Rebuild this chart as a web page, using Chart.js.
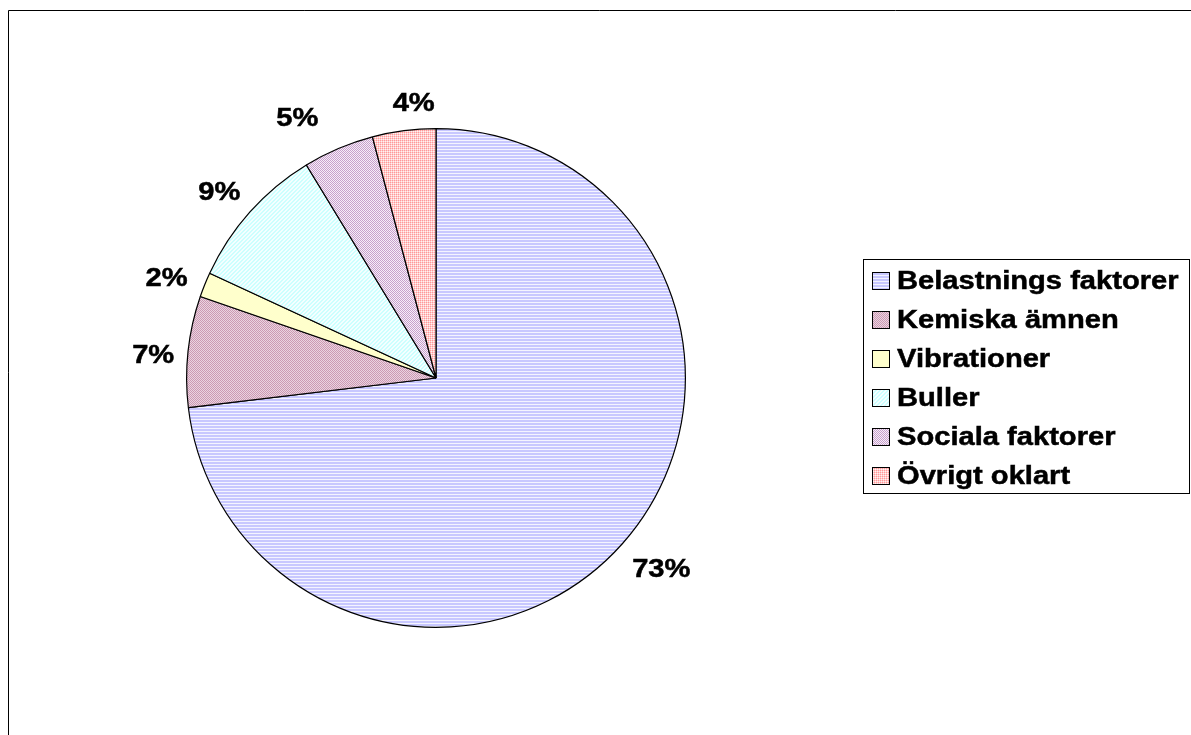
<!DOCTYPE html>
<html>
<head>
<meta charset="utf-8">
<script src="https://cdn.jsdelivr.net/npm/chart.js@4/dist/chart.umd.min.js"></script>
<style>
html,body{margin:0;padding:0;background:#fff;}
#wrap{position:relative;width:1191px;height:735px;}
</style>
</head>
<body>
<div id="wrap"><canvas id="c" width="1191" height="735"></canvas></div>
<script>
const categories = ["Belastnings faktorer","Kemiska ämnen","Vibrationer","Buller","Sociala faktorer","Övrigt oklart"];
const values = [73.1, 7.2, 1.6, 9.4, 4.6, 4.1];
const percentLabels = ["73%","7%","2%","9%","5%","4%"];

function tile(w, h, draw){
  const c = document.createElement('canvas'); c.width = w; c.height = h;
  const x = c.getContext('2d'); draw(x);
  return x.createPattern(c, 'repeat');
}
function px(x, col, i, j){ x.fillStyle = col; x.fillRect(i, j, 1, 1); }
function quad(a, b, c, d){
  return tile(2, 2, x => { px(x,a,0,0); px(x,b,1,0); px(x,c,0,1); px(x,d,1,1); });
}
const fills = [
  tile(1, 3, x => { x.fillStyle='#c8c8ff'; x.fillRect(0,0,1,2); x.fillStyle='#f4f4ff'; x.fillRect(0,2,1,1); }),
  quad('#cc99b3', '#ead4e0', '#ead4e0', '#cc99b3'),
  tile(1, 1, x => { x.fillStyle='#ffffcc'; x.fillRect(0,0,1,1); }),
  tile(4, 4, x => { x.fillStyle='#ccffff'; x.fillRect(0,0,4,4); for(let k=0;k<4;k++){ px(x,'#f4ffff',k,3-k); px(x,'#f4ffff',k,(4-k)%4); } }),
  quad('#c8a0cc', '#f6eef8', '#f6eef8', '#c8a0cc'),
  quad('#ff9999', '#ffcccc', '#ffcccc', '#fff2f2')
];

const cx = 436, cy = 378, R = 250;
const W = 1191, H = 735;
const FONT = 'bold 26px "Liberation Sans", Arial, sans-serif';
const SX = 1.12;

function stretchedText(ctx, txt, x, y, align){
  ctx.save();
  ctx.translate(x, y);
  ctx.scale(SX, 1);
  ctx.textAlign = align;
  ctx.lineWidth = 0.5;
  ctx.strokeStyle = '#000';
  ctx.fillText(txt, 0, 0);
  ctx.strokeText(txt, 0, 0);
  ctx.restore();
}

const decor = {
  id: 'decor',
  afterDraw(chart, args, opts){
    const ctx = chart.ctx;
    ctx.save();
    // outer frame (top and left visible)
    ctx.strokeStyle = '#000'; ctx.lineWidth = 1;
    ctx.beginPath(); ctx.moveTo(8.5, H); ctx.lineTo(8.5, 10.5); ctx.lineTo(W, 10.5); ctx.stroke();
    // percent labels
    const meta = chart.getDatasetMeta(0);
    ctx.font = FONT;
    ctx.fillStyle = '#000'; ctx.textBaseline = 'middle';
    meta.data.forEach((arc, i) => {
      const p = arc.getProps(['x','y','startAngle','endAngle','outerRadius'], true);
      const mid = (p.startAngle + p.endAngle) / 2;
      const dx = Math.cos(mid), dy = Math.sin(mid);
      const w = ctx.measureText(percentLabels[i]).width * SX, h = 24;
      const d = p.outerRadius + 20;
      const nudge = opts.nudge[i] || [0, 0];
      const x = p.x + dx * d + dx * w / 2 + nudge[0];
      const y = p.y + dy * d + dy * h / 2 + nudge[1];
      stretchedText(ctx, percentLabels[i], x, y, 'center');
    });
    // legend
    const lx = 863, ly = 259, lw = 326, lh = 234;
    ctx.fillStyle = '#fff'; ctx.fillRect(lx, ly, lw, lh);
    ctx.strokeStyle = '#000'; ctx.lineWidth = 1;
    ctx.strokeRect(lx + 0.5, ly + 0.5, lw, lh);
    categories.forEach((name, i) => {
      const yc = 281 + i * 39;
      ctx.fillStyle = fills[i];
      ctx.fillRect(872, yc - 9, 17, 17);
      ctx.strokeStyle = '#000'; ctx.lineWidth = 1; ctx.strokeRect(872.5, yc - 8.5, 17, 17);
      ctx.fillStyle = '#000';
      stretchedText(ctx, name, 897, yc + 1, 'left');
    });
    ctx.restore();
  }
};

new Chart(document.getElementById('c'), {
  type: 'pie',
  data: {
    labels: categories,
    datasets: [{
      data: values,
      backgroundColor: fills,
      borderColor: '#000',
      borderWidth: 1.2
    }]
  },
  options: {
    responsive: false,
    animation: false,
    events: [],
    layout: { padding: { left: cx - R, right: W - (cx + R), top: cy - R, bottom: H - (cy + R) } },
    plugins: {
      legend: { display: false },
      tooltip: { enabled: false },
      decor: { nudge: [[2, 5], [6, 8], [0, 6], [0, 2], [-25, 0], [15, 5]] }
    }
  },
  plugins: [decor]
});
</script>
</body>
</html>
